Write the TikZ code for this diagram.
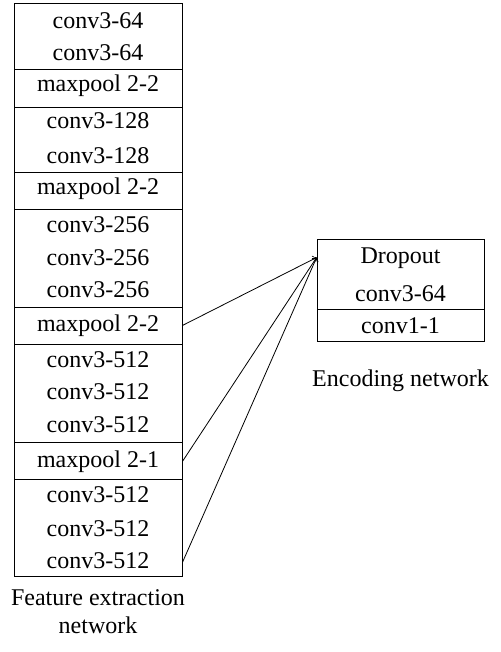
\documentclass[tikz,border=0pt]{standalone}
\usepackage{fontspec}
\setmainfont{Liberation Serif}
\tikzset{
  row/.style={minimum width=84pt, inner sep=0pt, anchor=base, text height=8pt, text depth=2.5pt, font=\fontsize{12}{14}\selectfont},
  encrow/.style={row, minimum width=83.5pt},
  caption/.style={inner sep=0pt, anchor=base, align=center, font=\fontsize{12}{14}\selectfont}
}
\begin{document}
\begin{tikzpicture}[x=0.5pt,y=-0.5pt]
  \useasboundingbox (0,0) rectangle (500,652);
  % feature extraction network
  \foreach \ya/\yb in {3/69, 69/107, 107/172, 172/209, 209/307, 307/344, 344/442, 442/479, 479/576}
    \draw (14,\ya) rectangle (182,\yb);
  \foreach \name/\txt/\y in {c11/conv3-64/29, c12/conv3-64/61, p1/maxpool 2-2/92,
      c21/conv3-128/129, c22/conv3-128/164, p2/maxpool 2-2/195,
      c31/conv3-256/233, c32/conv3-256/265, c33/conv3-256/297, p3/maxpool 2-2/331,
      c41/conv3-512/367, c42/conv3-512/399, c43/conv3-512/432, p4/maxpool 2-1/467,
      c51/conv3-512/502, c52/conv3-512/536, c53/conv3-512/568}
    \node [row] (\name) at (98,\y) {\txt};
  \node [caption] (feat) at (98,633) {Feature extraction\\network};
  % encoding network
  \draw (317,239) rectangle (484,309);
  \draw (317,309) rectangle (484,341);
  \node [encrow] (drop) at (400.5,263) {Dropout};
  \node [encrow] (e1) at (400.5,301) {conv3-64};
  \node [encrow] (e2) at (400.5,333) {conv1-1};
  \node [caption] (enc) at (400.5,386) {Encoding network};
  % connections
  \draw [->] (p3.east) -- (drop.west);
  \draw [->] (p4.east) -- (drop.west);
  \draw [->] (c53.east) -- (drop.west);
\end{tikzpicture}
\end{document}
